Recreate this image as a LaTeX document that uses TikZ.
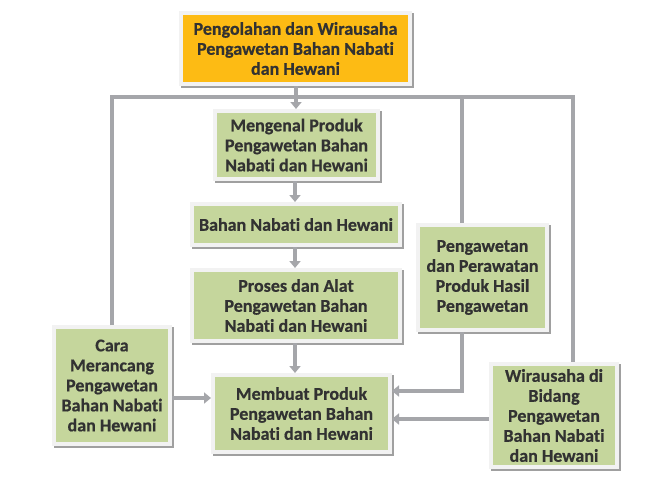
\documentclass[tikz,border=0pt]{standalone}
\usepackage{fontspec}
\setmainfont{Carlito}[Ligatures={NoCommon}, RawFeature={-liga}, BoldFeatures={FakeBold=0.6}]
\usetikzlibrary{arrows.meta}
\definecolor{boxgreen}{RGB}{197,214,156}
\definecolor{boxorange}{RGB}{253,187,20}
\definecolor{framec}{RGB}{242,242,242}
\definecolor{shadowc}{RGB}{160,160,160}
\definecolor{linec}{RGB}{165,166,170}
\definecolor{textc}{RGB}{50,50,50}
\tikzset{
  stepbox/.style={rectangle, inner sep=0pt, outer sep=4pt, fill=boxgreen,
    text=textc, align=center, font=\bfseries\fontsize{18}{20}\selectfont,
    preaction={draw=shadowc, line width=8pt, transform canvas={shift={(1.5pt,-1.5pt)}}},
    preaction={draw=framec, line width=8pt}},
  conn/.style={draw=linec, line width=4pt},
  arr/.style={conn, -{Triangle[length=7pt,width=11pt]}}
}
\begin{document}
\begin{tikzpicture}[x=1pt,y=-1pt]
\useasboundingbox[fill=white] (0,0) rectangle (648,496);
\node[stepbox, fill=boxorange, minimum width=225pt, minimum height=67pt] (top) at (295.5,48.5)
  {Pengolahan dan Wirausaha\\Pengawetan Bahan Nabati\\dan Hewani};
\node[stepbox, minimum width=159pt, minimum height=64pt] (meng) at (296.5,145)
  {Mengenal Produk\\Pengawetan Bahan\\Nabati dan Hewani};
\node[stepbox, minimum width=204pt, minimum height=37pt] (bahan) at (296,224.5)
  {Bahan Nabati dan Hewani};
\node[stepbox, minimum width=204pt, minimum height=67pt] (proses) at (296,305.5)
  {Proses dan Alat\\Pengawetan Bahan\\Nabati dan Hewani};
\node[stepbox, minimum width=173pt, minimum height=73pt] (membuat) at (301.5,413.5)
  {Membuat Produk\\Pengawetan Bahan\\Nabati dan Hewani};
\node[stepbox, minimum width=112pt, minimum height=113pt] (cara) at (112,385.5)
  {Cara\\Merancang\\Pengawetan\\Bahan Nabati\\dan Hewani};
\node[stepbox, minimum width=125pt, minimum height=101pt] (peng) at (482.5,277.5)
  {Pengawetan\\dan Perawatan\\Produk Hasil\\Pengawetan};
\node[stepbox, minimum width=122pt, minimum height=99pt] (wira) at (554,415.5)
  {Wirausaha di\\Bidang\\Pengawetan\\Bahan Nabati\\dan Hewani};
\coordinate (bus) at (0,97);
\coordinate (rbus) at (573,97);
% bus line
\draw[conn] (cara.north) -- (cara.north |- bus) -- (rbus) -- (rbus |- wira.north);
\draw[conn] (462,97) -- (peng.north -| 462,0);
% main chain
\draw[arr] (top.south -| 296,0) -- (meng.north -| 296,0);
\draw[arr] (meng.south -| 295,0) -- (bahan.north -| 295,0);
\draw[arr] (bahan.south -| 295,0) -- (proses.north -| 295,0);
\draw[arr] (proses.south -| 295,0) -- (membuat.north -| 295,0);
% side inputs
\draw[arr] (cara.east |- 0,398) -- (membuat.west |- 0,398);
\draw[arr] (peng.south -| 462,0) -- (462,391) -- (membuat.east |- 0,391);
\draw[arr] (wira.west |- 0,419) -- (membuat.east |- 0,419);
\end{tikzpicture}
\end{document}
